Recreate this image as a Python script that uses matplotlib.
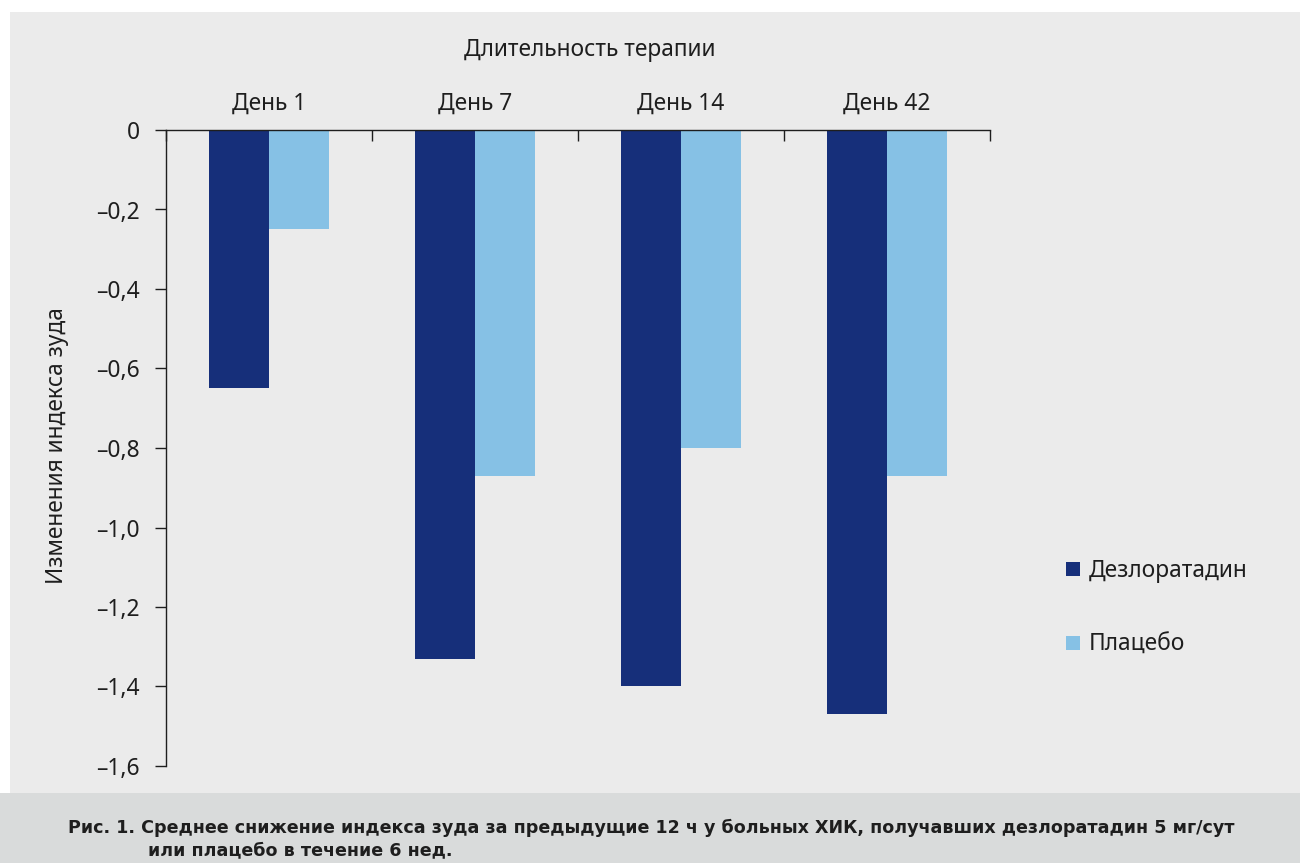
import numpy as np
import matplotlib.pyplot as plt
from matplotlib.patches import Rectangle

plt.rcParams['font.family'] = ['Noto Sans', 'DejaVu Sans']
plt.rcParams['font.weight'] = 'light'

days = ["День 1", "День 7", "День 14", "День 42"]
desloratadine = [-0.65, -1.33, -1.40, -1.47]
placebo = [-0.25, -0.87, -0.80, -0.87]
yticks = [0, -0.2, -0.4, -0.6, -0.8, -1.0, -1.2, -1.4, -1.6]
series_names = ["Дезлоратадин", "Плацебо"]
caption_1 = ("Рис. 1. Среднее снижение индекса зуда за предыдущие 12 ч у больных ХИК, "
             "получавших дезлоратадин 5 мг/сут")
caption_2 = "или плацебо в течение 6 нед."

DARK = "#162f7a"
LIGHT = "#86c1e5"
PANEL = "#ebebeb"
BAND = "#d9dbdb"
INK = "#1e1e1e"
W, H = 1300, 863
FS = 16.4

fig = plt.figure(figsize=(13, 8.63), dpi=100)
fig.patch.set_facecolor("white")
# grey panel and caption band, kept under the axes
fig.patches.append(Rectangle((10 / W, 70 / H), 1 - 10 / W, 1 - 12 / H - 70 / H,
                             transform=fig.transFigure, facecolor=PANEL, edgecolor="none", zorder=-10))
fig.patches.append(Rectangle((0, 0), 1, 70 / H, transform=fig.transFigure,
                             facecolor=BAND, edgecolor="none", zorder=-10))

ax = fig.add_axes([166 / W, 1 - 766 / H, (990 - 166) / W, (766 - 130) / H])
ax.set_facecolor("none")

x = np.arange(len(days))
bw = 0.29
ax.bar(x - bw / 2, desloratadine, bw, color=DARK, label=series_names[0], zorder=2)
ax.bar(x + bw / 2, placebo, bw, color=LIGHT, label=series_names[1], zorder=2)

ax.set_xlim(-0.5, len(days) - 0.5)
ax.set_ylim(-1.6, 0)

for s in ["right", "bottom"]:
    ax.spines[s].set_visible(False)
for s in ["top", "left"]:
    ax.spines[s].set_color(INK)
    ax.spines[s].set_linewidth(1.0)

ax.set_yticks(yticks)
ax.set_yticklabels([("–" + f"{abs(v):.1f}".replace(".", ",")) if v != 0 else "0"
                    for v in yticks])
ax.tick_params(axis="y", direction="out", length=8, width=1.0, color=INK,
               labelsize=FS, labelcolor=INK, pad=11)

# category boundaries as ticks on the top line, names in between
ax.xaxis.tick_top()
ax.set_xticks(np.arange(-0.5, len(days), 1.0))
ax.set_xticklabels([])
ax.tick_params(axis="x", which="major", direction="in", length=8, width=1.0, color=INK)
ax.set_xticks(x, minor=True)
ax.set_xticklabels(days, minor=True)
ax.tick_params(axis="x", which="minor", length=0, labelsize=FS, labelcolor=INK, pad=10)

fig.text(590 / W, 1 - 50 / H, "Длительность терапии", ha="center", va="center",
         fontsize=FS, color=INK)
fig.text(57 / W, 1 - 446 / H, "Изменения индекса зуда", ha="center", va="center",
         rotation=90, fontsize=FS, color=INK)

ax.legend(loc="center left", bbox_to_anchor=(1045 / W, 1 - 608 / H),
          bbox_transform=fig.transFigure, frameon=False, fontsize=FS,
          handlelength=0.62, handleheight=0.62, handletextpad=0.4, labelspacing=2.2,
          labelcolor=INK)

fig.text(68 / W, 1 - 828 / H, caption_1, ha="left", va="center", fontsize=12.6,
         fontweight="bold", family=["Liberation Sans Narrow", "DejaVu Sans"], color=INK)
fig.text(148 / W, 1 - 850 / H, caption_2, ha="left", va="center", fontsize=12.6,
         fontweight="bold", family=["Liberation Sans Narrow", "DejaVu Sans"], color=INK)

fig.savefig("out.png", dpi=100, facecolor=fig.get_facecolor())
